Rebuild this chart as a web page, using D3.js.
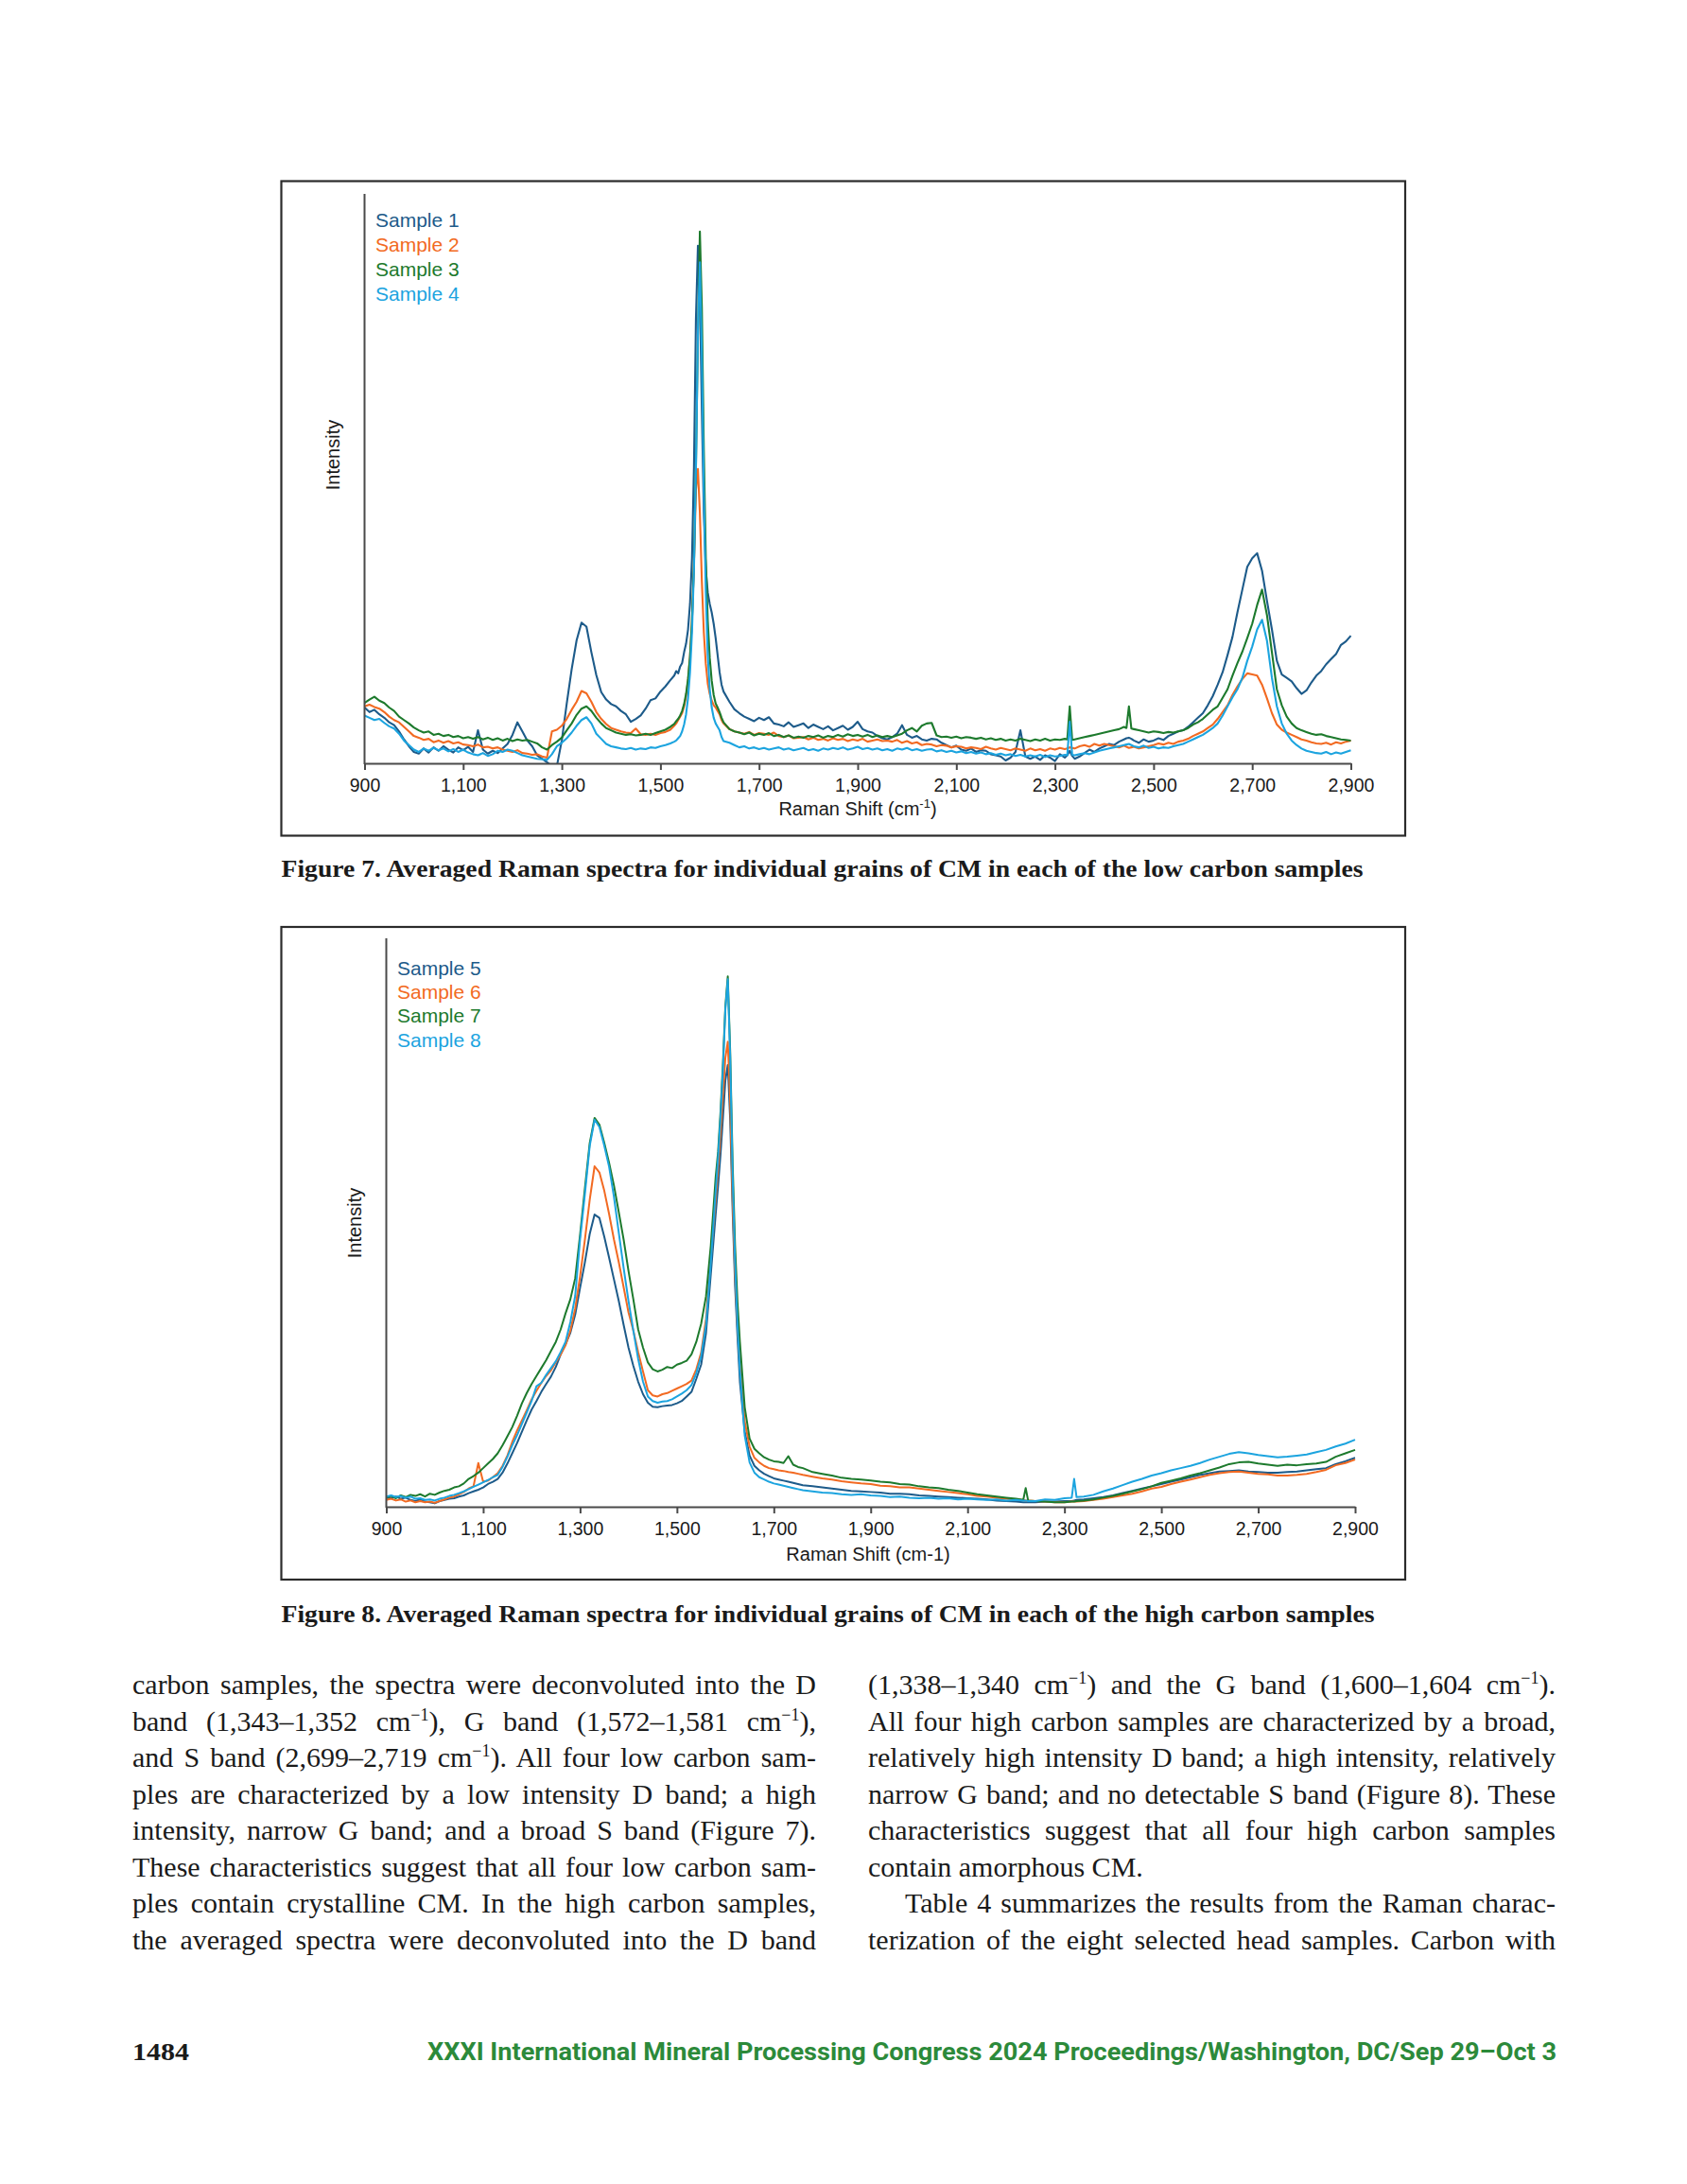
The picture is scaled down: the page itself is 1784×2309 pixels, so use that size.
<!DOCTYPE html>
<html>
<head>
<meta charset="utf-8">
<script src="https://cdn.jsdelivr.net/npm/d3@7"></script>
<style>
body { margin: 0; background: #fff; }
svg { display: block; }
</style>
</head>
<body>
<svg id="page" width="1784" height="2309"></svg>
<script>
// ---- Figure 7 : low carbon samples (intensity in arbitrary units, 0..100 = axis height)
const fig7Shift = [
	900,910,920,930,940,950,960,970,980,990,1000,1010,1020,1030,1040,1050,1060,1070,1080,1090,
	1100,1110,1120,1130,1140,1150,1160,1170,1180,1190,1200,1210,1220,1230,1240,1250,1260,1270,1280,1290,
	1300,1310,1320,1330,1340,1350,1360,1370,1380,1390,1400,1410,1420,1430,1440,1450,1460,1470,1480,1490,
	1500,1510,1520,
	1528,1532,1536,1540,1544,1548,1552,1556,1560,1564,1568,1572,1576,1580,1584,1588,1592,1596,1600,1604,
	1608,1612,1616,1620,1624,1628,
	1640,1650,1660,1670,1680,1690,1700,1710,1720,1730,1740,1750,1760,1770,1780,1790,1800,1810,1820,1830,
	1840,1850,1860,1870,1880,1890,1900,1910,1920,1930,1940,1950,1960,1970,1980,1990,2000,2010,2020,2030,
	2040,2050,2060,2070,2080,2090,2100,2110,2120,2130,2140,2150,2160,2170,2180,2190,2200,2210,2220,2230,
	2240,2250,2260,2270,2280,2290,2300,2310,2320,2325,2330,2335,
	2340,2350,2360,2370,2380,2390,2400,2410,2420,2430,2440,2445,2450,2455,
	2460,2470,2480,2490,2500,2510,2520,2530,2540,2550,2560,2570,2580,2590,2600,2610,2620,2630,
	2640,2650,2660,2670,2680,2690,2700,2710,2720,2730,2740,2750,2760,2770,2780,2790,2800,2810,2820,2830,
	2840,2850,2860,2870,2880,2890,2900
];
const sample1 = [
	9.8,9.0,9.4,8.6,8.0,7.2,6.7,5.6,4.2,3.0, 2.0,1.7,2.6,1.9,2.8,2.2,3.0,2.4,1.9,2.8,
	2.3,2.9,2.0,5.8,2.4,1.7,2.2,1.8,2.6,3.4, 5.0,7.2,5.6,4.0,3.0,1.4,0.8,0.2,-0.5,-0.5,
	4.0,10.5,16.5,21.6,24.7,24.0,19.5,15.5,12.5,11.2, 10.4,10.0,9.2,8.6,7.3,7.8,8.4,9.6,11.1,11.4,
	12.6,13.5,14.6,
	15.4,16.2,15.8,17.0,17.6,19.5,21.0,23.5,28,36,52,78,90.9,82,62,44,34,30,28,26.5,
	24.5,22,19,16,13.8,12.6,
	10.8,9.5,8.8,8.2,7.8,7.4,8.0,7.6,8.1,7.0, 6.8,6.5,7.2,6.4,6.7,7.0,6.2,6.8,6.4,6.0,
	6.5,5.8,6.2,6.6,5.9,6.4,7.3,6.0,5.6,5.4, 4.8,4.4,4.2,4.6,5.2,6.7,5.0,4.5,4.8,4.2,
	4.0,4.3,4.2,3.6,3.2,2.8,3.1,2.4,2.2,2.6, 2.0,2.3,2.2,1.6,1.4,1.2,0.5,1.0,2.0,5.8,
	1.2,0.8,1.2,0.6,1.4,1.0,0.4,1.6,1.0,1.4,2.2,1.3,
	0.8,1.2,1.8,2.4,2.0,2.6,3.0,3.4,3.2,3.8,4.2,4.4,4.5,4.3,
	4.0,3.6,4.2,3.8,4.0,4.4,4.1,4.8, 5.2,5.6,5.8,6.4,7.2,8.0,8.8,10.2,11.8,13.8,
	16.0,19.0,22.2,26.5,30.5,34.5,36.0,36.9,33.8,28.5, 23.5,18.0,15.6,15.0,14.4,13.2,12.2,12.8,14.2,15.4,
	16.2,17.4,18.3,19.2,20.8,21.4,22.4
];
const sample2 = [
	10.0,10.3,9.9,9.6,9.0,8.2,7.6,7.2,6.4,5.6, 4.8,4.5,4.1,4.3,3.7,4.0,3.6,3.9,3.5,3.7,
	3.3,3.2,3.0,3.3,2.8,2.9,2.6,2.8,2.4,2.2, 2.0,2.3,1.8,1.7,1.5,1.6,1.2,1.0,5.6,5.9,
	6.6,7.8,9.4,10.8,12.7,12.3,10.8,9.0,7.8,6.9, 6.2,5.9,5.6,5.4,5.3,6.1,5.1,5.0,5.2,5.0,
	5.3,5.5,5.9,
	6.6,7.0,7.6,8.2,8.8,10.0,11.8,14.5,18.5,25,35,48,51.7,44,32,23,17.5,14.0,12.2,11.0,
	10.2,9.8,9.2,8.6,7.6,7.0,
	6.0,5.6,5.4,5.2,5.5,5.0,5.3,5.2,5.0,5.4, 4.8,4.6,4.9,4.4,4.5,4.6,4.2,4.5,4.1,4.3,
	4.0,4.4,4.1,4.3,3.9,4.2,4.0,4.3,3.8,4.0, 4.2,3.9,4.0,3.8,4.1,3.6,3.9,3.5,3.7,3.2,
	3.4,3.3,3.0,3.2,3.1,2.8,3.0,2.9,2.6,2.8, 2.7,2.5,2.9,2.6,2.4,2.7,2.5,2.3,2.6,2.4,
	2.2,2.6,2.3,2.5,2.2,2.6,2.4,2.7,2.5,2.6,2.8,2.7,
	2.6,3.0,3.2,2.9,3.4,3.1,3.4,3.2,3.0,2.8,3.1,2.9,2.7,2.8,
	2.9,2.6,2.8,3.0,3.2,3.5,3.3,3.6, 3.4,3.8,4.0,4.3,4.8,5.2,5.6,6.2,6.8,7.8,
	9.0,10.2,12.0,13.5,14.8,15.8,15.6,15.4,13.8,11.4, 8.8,6.8,5.9,5.4,5.0,4.6,4.2,4.0,3.7,3.5,
	3.4,3.6,3.3,3.7,3.5,3.8,4.0
];
const sample3 = [
	10.6,11.2,11.7,11.0,10.6,9.8,9.2,8.2,7.6,7.0, 6.3,5.8,5.4,5.6,5.0,5.2,4.8,5.0,4.6,4.8,
	4.4,4.6,4.3,4.6,4.2,4.5,4.1,4.4,4.0,4.3, 3.9,4.2,4.0,4.1,3.8,3.5,2.8,2.4,3.2,3.8,
	4.5,5.8,7.0,8.5,9.6,10.0,9.2,8.0,7.0,6.2, 5.8,5.4,5.2,5.0,5.1,4.9,5.0,5.2,5.0,5.3,
	5.6,5.9,6.4,
	6.9,7.4,7.8,8.4,9.2,10.4,12.2,14.8,18.8,25,35,52,75,93.4,80,55,36,25,18.5,14.5,
	12.0,10.5,9.8,9.0,8.0,7.2,
	6.0,5.6,5.4,5.1,5.4,4.9,5.2,5.0,5.3,4.8, 5.0,4.6,4.9,4.5,4.7,4.5,4.8,4.6,4.9,4.5,
	4.8,4.6,5.0,4.7,5.1,4.8,5.0,4.7,5.0,4.6, 4.9,4.6,4.8,4.6,4.9,5.2,5.8,6.2,5.6,6.6,
	7.0,7.1,4.9,4.6,4.7,4.5,4.7,4.4,4.6,4.5, 4.3,4.5,4.2,4.4,4.1,4.3,4.0,4.2,4.0,4.3,
	4.1,3.9,4.2,4.0,4.3,4.0,4.2,4.1,4.3,4.2,10.0,4.1,
	4.2,4.4,4.6,4.8,5.0,5.2,5.4,5.6,5.8,6.0,6.4,6.2,10.0,6.1,
	6.0,5.8,5.6,5.4,5.6,5.5,5.3,5.5, 5.4,5.6,5.8,6.2,6.8,7.2,7.8,8.6,9.4,10.0,
	11.5,13.0,15.4,17.6,19.6,22.0,24.5,27.8,30.5,26.0, 19.5,13.0,10.2,8.2,7.0,6.2,5.8,5.5,5.2,5.0,
	5.1,4.8,4.6,4.4,4.2,4.1,4.0
];
const sample4 = [
	8.4,8.0,7.6,7.8,7.1,6.5,6.1,5.2,4.0,3.2, 2.4,2.0,2.6,2.2,2.7,2.3,2.6,2.1,2.5,2.0,
	2.4,1.9,1.6,1.4,1.8,1.3,1.6,2.2,2.0,2.4, 2.2,1.8,1.4,1.2,1.0,0.8,0.7,0.6,1.6,3.0,
	3.6,4.4,5.4,6.6,7.6,8.1,7.0,5.2,4.3,3.4, 3.0,2.8,2.6,2.5,2.7,2.4,2.6,2.5,2.8,2.7,
	3.0,3.2,3.5,
	3.8,4.0,4.4,4.8,5.6,6.8,8.6,11.5,16,23,34,52,76,88,72,48,30,19,13,9.8,
	8.0,7.0,6.4,5.8,4.6,3.9,
	3.6,3.2,2.8,3.0,2.6,2.8,2.5,2.7,2.4,2.6, 2.8,2.4,2.6,2.3,2.5,2.7,2.3,2.5,2.2,2.6,
	2.4,2.7,2.5,2.8,2.4,2.6,2.9,2.5,2.7,2.4, 2.6,2.3,2.5,2.2,2.6,2.4,2.7,2.3,2.5,2.2,
	2.4,2.5,2.1,2.3,2.0,2.2,1.9,2.1,1.8,2.0, 1.7,1.9,1.6,1.8,1.5,1.7,1.4,1.6,1.3,1.5,
	1.2,1.4,1.2,1.5,1.1,1.4,1.2,1.3,1.5,1.4,7.3,1.5,
	1.4,1.6,1.8,1.6,1.9,2.2,2.4,2.6,2.8,3.0,3.2,3.3,3.4,3.2,
	3.0,2.8,3.1,2.7,2.9,2.6,2.8,2.7, 3.0,3.2,3.4,3.8,4.2,4.6,5.0,5.6,6.2,7.0,
	8.4,10.0,11.6,13.0,15.0,18.0,20.5,23.5,25.2,21.5, 15.0,10.0,7.0,5.2,4.0,3.2,2.6,2.2,2.0,1.8,
	1.7,2.0,1.6,1.9,1.7,2.0,2.3
];

// ---- Figure 8 : high carbon samples
const fig8Shift = [
	900,910,920,930,940,950,960,970,980,990,1000,1010,1020,1030,1040,1050,1060,1070,1080,1090,
	1100,1110,1120,1130,1140,1150,1160,1170,1180,1190,1200,1210,1220,1230,1240,1250,1260,1270,1280,1290,
	1300,1310,1320,1330,1340,1350,1360,1370,1380,1390,1400,1410,1420,1430,1440,1450,1460,1470,1480,1490,
	1500,1510,1520,1530,1540,1550,1560,1570,1580,
	1585,1590,1595,1600,1605,1610,1615,1620,1625,
	1630,1640,1650,1660,1670,1680,1690,1700,1710,1720,1730,1740,1750,
	1760,1780,1800,1820,1840,1860,1880,1900,1920,1940,1960,1980,2000,2020,2040,2060,2080,2100,2120,2140,
	2160,2180,2200,2215,2220,2225,2240,2260,2280,2300,2315,2320,2325,
	2340,2360,2380,2400,2420,2440,2460,2480,2500,2520,2540,
	2560,2580,2600,2620,2640,2660,2680,2700,2720,2740,2760,2780,2800,2820,2840,2860,2880,2900
];
const sample5 = [
	1.6,1.5,1.8,1.4,1.6,1.2,1.0,1.3,0.9,0.8, 0.6,1.0,1.2,1.4,1.5,1.8,2.0,2.4,2.7,3.0,
	3.4,4.0,4.4,4.9,6.0,7.6,9.4,11.2,13.2,15.2, 17.1,18.6,20.2,21.6,22.9,24.6,26.8,28.6,30.6,33.8,
	38.5,43.0,48.0,51.4,50.8,47.5,43.8,40.0,36.2,32.0, 28.0,24.8,22.0,19.8,18.3,17.6,17.5,17.7,17.8,17.9,
	18.2,18.6,19.4,20.2,22.5,25.0,30.5,41.0,51.5,
	56.5,62,68.5,75,77.7,68,52,39,30,
	22,13.2,9.0,7.2,6.4,5.8,5.4,5.0,4.8,4.6,4.4,4.2,4.0,
	3.8,3.6,3.4,3.2,3.0,2.8,2.7,2.6,2.5,2.3, 2.3,2.2,2.0,1.9,1.8,1.7,1.6,1.5,1.4,1.3,
	1.1,1.0,0.9,0.8,0.8,0.8,0.8,0.9,0.9,1.0,1.0,1.1,1.2,
	1.3,1.5,1.7,2.0,2.4,2.8,3.2,3.6,4.0,4.4,4.8,
	5.2,5.6,5.9,6.2,6.3,6.4,6.2,6.1,6.0,6.0, 6.1,6.2,6.4,6.6,6.8,7.5,8.0,8.6
];
const sample6 = [
	1.2,1.4,1.1,1.3,0.9,1.1,0.8,1.0,0.8,0.9, 0.7,1.0,1.3,1.6,1.8,2.2,2.6,3.2,3.6,7.7,
	4.4,4.6,5.2,5.9,7.2,9.0,11.4,13.4,15.2,17.0, 18.9,20.4,21.8,23.0,24.0,25.4,26.8,28.4,31.0,34.9,
	40.5,47.0,54.0,59.9,58.8,55.6,51.5,47.0,43.0,38.6, 34.2,31.0,27.2,23.8,20.5,19.6,19.4,19.8,20.0,20.4,
	20.8,21.2,21.6,22.2,24.2,27.1,33.0,43.8,54.0,
	59.5,65.5,72.5,79,81.8,71,54,41,32,
	25,15,10.6,8.6,7.8,7.2,6.8,6.6,6.4,6.3,6.1,6.0,5.8,
	5.6,5.3,5.0,4.8,4.5,4.3,4.1,4.0,3.7,3.6, 3.4,3.4,3.2,3.0,2.8,2.6,2.4,2.2,1.9,1.8,
	1.6,1.4,1.3,1.2,1.1,1.1,1.0,0.9,0.8,0.8,0.9,0.9,0.9,
	1.0,1.2,1.4,1.7,2.0,2.3,2.7,3.2,3.5,4.0,4.4,
	4.8,5.2,5.6,5.9,6.1,6.2,6.0,5.8,5.7,5.5, 5.5,5.6,5.8,6.1,6.5,7.3,7.7,8.3
];
const sample7 = [
	1.6,1.9,1.5,2.0,1.7,2.1,1.9,2.2,1.8,2.3, 2.1,2.5,2.8,3.0,3.4,3.6,4.1,4.9,5.4,6.0,
	6.8,7.6,8.4,9.4,10.8,12.4,14.0,16.0,18.2,20.0, 21.6,23.0,24.4,25.8,27.4,29.0,31.2,34.0,36.5,40.2,
	47.8,56.0,64.0,68.4,67.2,64.0,60.5,56.5,51.8,47.0, 41.5,36.5,31.2,28.0,25.4,24.2,23.8,24.1,24.6,24.4,
	25.0,25.3,25.7,26.8,29.0,32.2,37.0,46.0,58.0,
	62.5,69.5,78,88,93.3,80,60.4,46,36,
	29,17.5,12,10.2,9.4,8.7,8.3,8.0,7.9,7.7,8.9,7.4,7.0,
	6.8,6.1,5.8,5.5,5.1,4.9,4.8,4.6,4.4,4.3, 4.0,3.9,3.6,3.4,3.3,3.0,2.8,2.5,2.2,2.0,
	1.8,1.6,1.4,1.2,3.3,1.1,1.0,0.9,0.8,0.8,0.9,0.9,1.0,
	1.1,1.3,1.6,1.9,2.3,2.7,3.1,3.6,4.2,4.6,5.0,
	5.5,5.9,6.4,6.9,7.5,7.8,7.9,7.6,7.4,7.2, 7.4,7.3,7.5,7.6,7.9,8.8,9.4,10.0
];
const sample8 = [
	1.8,2.0,1.7,1.9,1.6,1.8,1.4,1.5,1.2,1.3, 1.1,1.4,1.6,1.9,2.1,2.4,2.7,3.1,3.5,3.9,
	4.3,4.7,5.2,5.6,7.0,8.8,10.8,12.6,14.6,16.6, 18.6,21.2,21.8,23.2,24.4,25.6,27.2,29.0,32.5,37.1,
	47.0,55.0,63.5,68.1,66.8,63.5,59.8,54.5,48.2,42.0, 36.2,31.0,26.0,22.0,19.4,18.6,18.3,18.5,18.6,18.9,
	19.4,19.9,20.5,21.4,23.5,26.5,32.0,43.0,55.5,
	61.5,68.5,77,87.5,92.8,79,58,43,32,
	24,12.5,7.8,6.0,5.2,4.8,4.4,4.1,3.9,3.7,3.5,3.3,3.1,
	2.9,2.7,2.5,2.4,2.2,2.1,2.2,2.0,1.9,1.7, 1.8,1.6,1.5,1.6,1.4,1.5,1.3,1.4,1.3,1.2,
	1.3,1.1,1.2,1.1,1.1,1.0,1.0,1.3,1.2,1.5,1.6,4.9,1.7,
	1.8,2.1,2.7,3.2,3.8,4.4,4.9,5.5,5.9,6.4,6.8,
	7.2,7.7,8.3,8.8,9.3,9.6,9.4,9.1,8.9,8.7, 8.8,9.0,9.2,9.6,10.0,10.6,11.1,11.8
];

const tickValues = [900, 1100, 1300, 1500, 1700, 1900, 2100, 2300, 2500, 2700, 2900];
const tickLabels = ["900", "1,100", "1,300", "1,500", "1,700", "1,900", "2,100", "2,300", "2,500", "2,700", "2,900"];
const fig7Names = ["Sample 1", "Sample 2", "Sample 3", "Sample 4"];
const fig8Names = ["Sample 5", "Sample 6", "Sample 7", "Sample 8"];
const seriesColors = ["#1d5b8a", "#f26a22", "#1d7a2d", "#1ca4df"];

const svg = d3.select("#page");
svg.append("rect").attr("width", 1784).attr("height", 2309).attr("fill", "#fff");

const sansFont = "'Liberation Sans', Arial, sans-serif";
const serifFont = "'Liberation Serif', 'Times New Roman', serif";

function drawFigure(cfg) {
	const g = svg.append("g");

	// frame round the figure
	g.append("rect")
		.attr("x", cfg.frame[0]).attr("y", cfg.frame[1])
		.attr("width", cfg.frame[2] - cfg.frame[0]).attr("height", cfg.frame[3] - cfg.frame[1])
		.attr("fill", "none").attr("stroke", "#2b2b2b").attr("stroke-width", 2.2);

	const x = d3.scaleLinear().domain([900, 2900]).range([cfg.left, cfg.right]);
	const y = d3.scaleLinear().domain([0, 100]).range([cfg.bottom, cfg.top]);

	const clipId = cfg.id + "-clip";
	g.append("clipPath").attr("id", clipId)
		.append("rect").attr("x", cfg.left).attr("y", cfg.top - 20)
		.attr("width", cfg.right - cfg.left + 2).attr("height", cfg.bottom - cfg.top + 20);

	const line = d3.line()
		.x((d, i) => x(cfg.shifts[i]))
		.y(d => y(d));

	g.append("g").attr("clip-path", "url(#" + clipId + ")")
		.selectAll("path").data(cfg.series).enter().append("path")
		.attr("d", d => line(d))
		.attr("fill", "none")
		.attr("stroke", (d, i) => seriesColors[i])
		.attr("stroke-width", cfg.lineWidth)
		.attr("stroke-linejoin", "round");

	// x axis
	const axis = g.append("g").attr("transform", "translate(0," + cfg.bottom + ")")
		.call(d3.axisBottom(x).tickValues(tickValues).tickFormat((d, i) => tickLabels[i])
			.tickSize(7).tickSizeOuter(0).tickPadding(9));
	axis.select(".domain").attr("stroke", "#4a4a4a").attr("stroke-width", 2);
	axis.selectAll(".tick line").attr("stroke", "#4a4a4a").attr("stroke-width", 2);
	axis.selectAll(".tick text").attr("fill", "#1a1a1a")
		.style("font-family", sansFont).style("font-size", "19.5px");

	// y axis: a bare line
	g.append("line")
		.attr("x1", cfg.left).attr("x2", cfg.left)
		.attr("y1", cfg.bottom + 1).attr("y2", cfg.top)
		.attr("stroke", "#4a4a4a").attr("stroke-width", 2);

	g.append("text")
		.attr("transform", "translate(" + cfg.intensityX + "," + cfg.intensityY + ") rotate(-90)")
		.attr("text-anchor", "middle").attr("dominant-baseline", "central")
		.style("font-family", sansFont).style("font-size", "20px").attr("fill", "#1a1a1a")
		.text("Intensity");

	const title = g.append("text")
		.attr("x", cfg.titleX).attr("y", cfg.titleY)
		.attr("text-anchor", "middle")
		.style("font-family", sansFont).style("font-size", "20px").attr("fill", "#1a1a1a");
	if (cfg.superTitle) {
		title.append("tspan").text("Raman Shift (cm");
		title.append("tspan").attr("dy", -8).style("font-size", "13px").text("-1");
		title.append("tspan").attr("dy", 8).text(")");
	} else {
		title.text("Raman Shift (cm-1)");
	}

	// legend
	g.selectAll(".legend").data(cfg.names).enter().append("text")
		.attr("class", "legend")
		.attr("x", cfg.legendX)
		.attr("y", (d, i) => cfg.legendY + i * cfg.legendStep)
		.attr("fill", (d, i) => seriesColors[i])
		.style("font-family", sansFont).style("font-size", "21px")
		.text(d => d);
}

drawFigure({
	id: "fig7", frame: [297.5, 191.5, 1486, 883.5],
	left: 385.5, right: 1428.5, bottom: 807, top: 205,
	shifts: fig7Shift, series: [sample1, sample2, sample3, sample4], names: fig7Names,
	lineWidth: 2.1,
	intensityX: 352, intensityY: 481,
	titleX: 907, titleY: 862, superTitle: true,
	legendX: 397, legendY: 240, legendStep: 26
});

drawFigure({
	id: "fig8", frame: [297.5, 980, 1486, 1670],
	left: 408.5, right: 1433, bottom: 1593, top: 992,
	shifts: fig8Shift, series: [sample5, sample6, sample7, sample8], names: fig8Names,
	lineWidth: 2,
	intensityX: 375, intensityY: 1293,
	titleX: 918, titleY: 1650, superTitle: false,
	legendX: 420, legendY: 1031, legendStep: 25.2
});

// captions
function caption(text, x, yBase, width) {
	svg.append("text").attr("x", x).attr("y", yBase)
		.attr("textLength", width).attr("lengthAdjust", "spacingAndGlyphs")
		.style("font-family", serifFont).style("font-size", "26px").style("font-weight", "bold")
		.attr("fill", "#1a1a1a").text(text);
}
caption("Figure 7. Averaged Raman spectra for individual grains of CM in each of the low carbon samples", 297.5, 927, 1144);
caption("Figure 8. Averaged Raman spectra for individual grains of CM in each of the high carbon samples", 297.5, 1715, 1156);

// body text, two justified columns; ^{..} marks a superscript
const leftColumn = [
	"carbon samples, the spectra were deconvoluted into the D",
	"band (1,343–1,352 cm^{−1}), G band (1,572–1,581 cm^{−1}),",
	"and S band (2,699–2,719 cm^{−1}). All four low carbon sam-",
	"ples are characterized by a low intensity D band; a high",
	"intensity, narrow G band; and a broad S band (Figure 7).",
	"These characteristics suggest that all four low carbon sam-",
	"ples contain crystalline CM. In the high carbon samples,",
	"the averaged spectra were deconvoluted into the D band"
];
const rightColumn = [
	"(1,338–1,340 cm^{−1}) and the G band (1,600–1,604 cm^{−1}).",
	"All four high carbon samples are characterized by a broad,",
	"relatively high intensity D band; a high intensity, relatively",
	"narrow G band; and no detectable S band (Figure 8). These",
	"characteristics suggest that all four high carbon samples",
	"contain amorphous CM.",
	"Table 4 summarizes the results from the Raman charac-",
	"terization of the eight selected head samples. Carbon with"
];
const bodyBaselines = [1791, 1829.5, 1868, 1906.5, 1945, 1983.5, 2022, 2060.5];

function bodyLine(str, x, yBase, width, justify) {
	const t = svg.append("text").attr("x", x).attr("y", yBase)
		.style("font-family", serifFont).style("font-size", "30px").attr("fill", "#1a1a1a");
	const parts = str.split(/\^\{(.*?)\}/);
	let raised = false;
	parts.forEach((p, i) => {
		if (!p) return;
		const sup = i % 2 === 1;
		const span = t.append("tspan").text(p);
		if (sup) {
			span.attr("dy", -11).style("font-size", "18px");
			raised = true;
		} else if (raised) {
			span.attr("dy", 11);
			raised = false;
		}
	});
	if (justify) {
		const natural = t.node().getComputedTextLength();
		const spaces = (str.match(/ /g) || []).length;
		if (spaces) t.style("word-spacing", ((width - natural) / spaces) + "px");
	}
}

leftColumn.forEach((s, i) => bodyLine(s, 140, bodyBaselines[i], 723, true));
rightColumn.forEach((s, i) => {
	if (i === 5) bodyLine(s, 918, bodyBaselines[i], 0, false);
	else if (i === 6) bodyLine(s, 957, bodyBaselines[i], 1645 - 957, true);
	else bodyLine(s, 918, bodyBaselines[i], 1645 - 918, true);
});

// footer
svg.append("text").attr("x", 140).attr("y", 2178)
	.attr("textLength", 60).attr("lengthAdjust", "spacingAndGlyphs")
	.style("font-family", serifFont).style("font-size", "26px").style("font-weight", "bold")
	.attr("fill", "#1a1a1a").text("1484");
svg.append("text").attr("x", 452).attr("y", 2178)
	.attr("textLength", 1194).attr("lengthAdjust", "spacingAndGlyphs")
	.style("font-family", "'Liberation Sans Narrow', Roboto, 'Liberation Sans', sans-serif")
	.style("font-size", "25px").style("font-weight", "bold")
	.attr("fill", "#2c8a3a").text("XXXI International Mineral Processing Congress 2024 Proceedings/Washington, DC/Sep 29–Oct 3");
</script>
</body>
</html>
